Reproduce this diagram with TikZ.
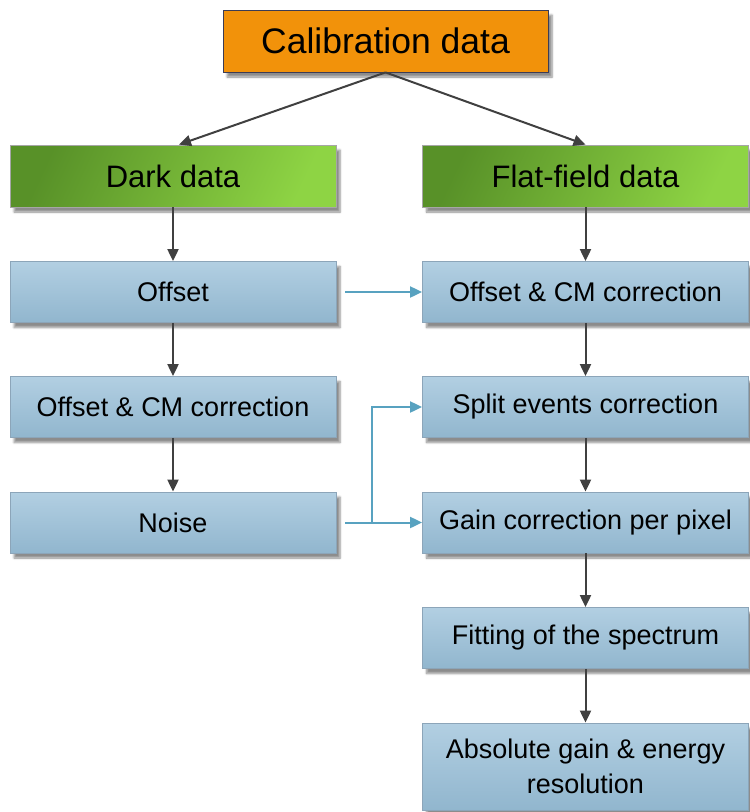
\documentclass[tikz,border=0pt]{standalone}
\usepackage{fontspec}
\setmainfont{Liberation Sans}
\usetikzlibrary{arrows.meta,shadows.blur,calc}
\definecolor{orangefill}{RGB}{242,146,10}
\definecolor{boxborder}{RGB}{60,60,85}
\definecolor{greendark}{RGB}{88,145,40}
\definecolor{greenlight}{RGB}{142,212,68}
\definecolor{bluetop}{RGB}{178,207,226}
\definecolor{bluebot}{RGB}{145,182,206}
\definecolor{blueborder}{RGB}{140,165,185}
\definecolor{arrowgray}{RGB}{64,64,64}
\definecolor{linkblue}{RGB}{88,162,192}
\tikzset{
  shadowed/.style={blur shadow={shadow xshift=4pt, shadow yshift=-5pt, shadow blur steps=6, shadow opacity=45}},
  topbox/.style={draw=boxborder, line width=0.8pt, fill=orangefill, minimum width=325pt, minimum height=62pt, inner sep=0pt, font=\fontsize{35.5}{40}\selectfont, shadowed},
  greenbox/.style={draw=gray!70, line width=0.8pt, shading=axis, left color=greendark, right color=greenlight, shading angle=65, minimum width=326pt, minimum height=62pt, inner sep=0pt, font=\fontsize{31}{36}\selectfont, shadowed},
  bluebox/.style={draw=blueborder, line width=0.8pt, top color=bluetop, bottom color=bluebot, minimum width=326pt, minimum height=61pt, inner sep=0pt, font=\fontsize{27}{35}\selectfont, align=center, shadowed},
  grayarrow/.style={draw=arrowgray, line width=2pt, -{Triangle[length=12pt,width=11pt]}},
  bluearrow/.style={draw=linkblue, line width=2pt, -{Triangle[length=12pt,width=11pt]}},
  blueline/.style={draw=linkblue, line width=2pt}
}
\begin{document}
\begin{tikzpicture}[x=1pt,y=-1pt]
\useasboundingbox (0,0) rectangle (750,812);
\node[topbox] (calib) at (385.5,41) {Calibration data};
\node[greenbox] (dark) at (173,176) {Dark data};
\node[greenbox] (flat) at (585.5,176) {Flat-field data};
\node[bluebox] (offL) at (173,292) {Offset};
\node[bluebox] (cmL) at (173,407) {Offset \& CM correction};
\node[bluebox] (noise) at (173,522.5) {Noise};
\node[bluebox] (cmR) at (585.5,292) {Offset \& CM correction};
\node[bluebox] (split) at (585.5,407) {Split events correction};
\node[bluebox] (gain) at (585.5,522.5) {Gain correction per pixel};
\node[bluebox] (fit) at (585.5,638) {Fitting of the spectrum};
\node[bluebox, minimum height=87pt] (abs) at (585.5,766.5) {Absolute gain \& energy\\resolution};
\coordinate (calout) at (calib.south);
\coordinate (darkin) at ([xshift=6pt]dark.north);
\draw[grayarrow] (calout) -- (darkin);
\draw[grayarrow] (calout) -- (flat.north);
\draw[grayarrow] (dark) -- (offL);
\draw[grayarrow] (offL) -- (cmL);
\draw[grayarrow] (cmL) -- (noise);
\draw[grayarrow] (flat) -- (cmR);
\draw[grayarrow] (cmR) -- (split);
\draw[grayarrow] (split) -- (gain);
\draw[grayarrow] (gain) -- (fit);
\draw[grayarrow] (fit) -- (abs);
\coordinate (offout) at ([xshift=9pt]offL.east);
\coordinate (noiseout) at ([xshift=9pt]noise.east);
\coordinate (branch) at ([xshift=36pt]noise.east);
\draw[bluearrow] (offout) -- (cmR.west);
\draw[bluearrow] (noiseout) -- (gain.west);
\draw[bluearrow] (branch) |- (split.west);
\end{tikzpicture}
\end{document}
